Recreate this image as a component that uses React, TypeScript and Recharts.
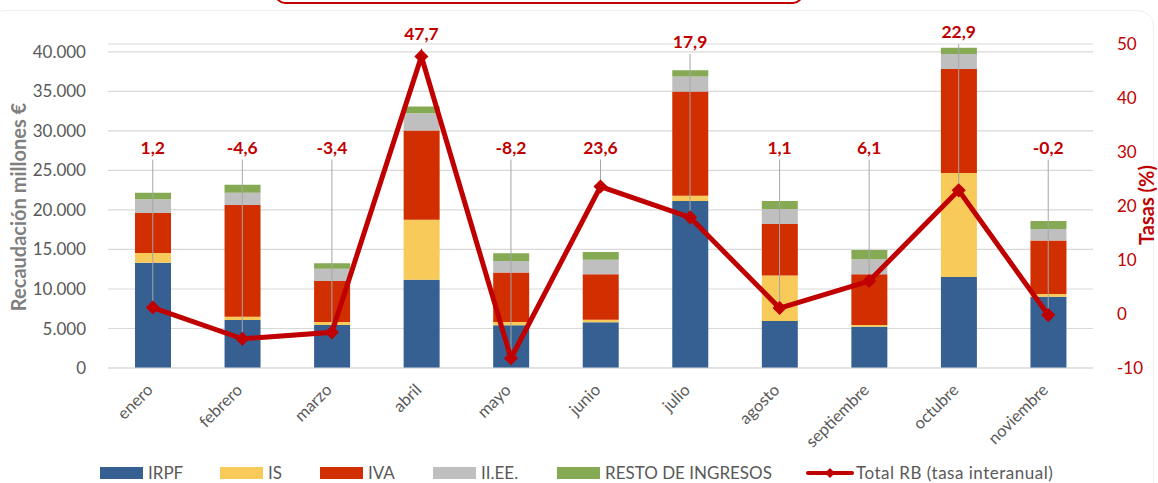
import React from 'react';
import { ComposedChart, Bar, Line, XAxis, YAxis, CartesianGrid, LabelList, ErrorBar } from 'recharts';

// Recaudación mensual (millones €) por figura tributaria
const months = ['enero', 'febrero', 'marzo', 'abril', 'mayo', 'junio', 'julio', 'agosto', 'septiembre', 'octubre', 'noviembre'];
const irpf = [13330, 6080, 5440, 11180, 5400, 5780, 21140, 5950, 5230, 11520, 9030];
const isoc = [1230, 420, 380, 7590, 420, 340, 670, 5740, 210, 13170, 340];
const iva = [5060, 14140, 5190, 11270, 6250, 5740, 13170, 6540, 6420, 13160, 6750];
const iiee = [1740, 1550, 1560, 2200, 1480, 1850, 1900, 1900, 1900, 1900, 1480];
const resto = [830, 1010, 680, 840, 970, 980, 810, 1010, 1180, 760, 1010];
// Total RB, tasa interanual (%)
const totalRB = [1.2, -4.6, -3.4, 47.7, -8.2, 23.6, 17.9, 1.1, 6.1, 22.9, -0.2];

const leftTicks = [0, 5000, 10000, 15000, 20000, 25000, 30000, 35000, 40000];
const rightTicks = [-10, 0, 10, 20, 30, 40, 50];
const LEFT_MAX = 41000;
const RIGHT_MIN = -10;
const RIGHT_MAX = 50;
const LABEL_FLOOR = 28.6;

const RED = '#c00000';
const GREY_TXT = '#595959';
const FONT = 'Lato, "Open Sans", sans-serif';

const series = [
  { key: 'irpf', name: 'IRPF', color: '#376092' },
  { key: 'is', name: 'IS', color: '#f7ca5a' },
  { key: 'iva', name: 'IVA', color: '#d22f00' },
  { key: 'iiee', name: 'II.EE.', color: '#bfbfbf' },
  { key: 'resto', name: 'RESTO DE INGRESOS', color: '#86aa54' },
];
// legend item start (px) – matches the source layout
const legendLeft = [100, 220, 320, 433, 557, 806];

const data = months.map((m, i) => {
  const total = irpf[i] + isoc[i] + iva[i] + iiee[i] + resto[i];
  const barTopRate = (total / LEFT_MAX) * (RIGHT_MAX - RIGHT_MIN) + RIGHT_MIN;
  const onMarker = totalRB[i] + 2;
  const labelAt = Math.min(RIGHT_MAX, Math.max(LABEL_FLOOR, barTopRate + 3, onMarker));
  const leader = labelAt > onMarker ? labelAt - totalRB[i] : 0;
  return {
    month: m,
    irpf: irpf[i],
    is: isoc[i],
    iva: iva[i],
    iiee: iiee[i],
    resto: resto[i],
    rate: totalRB[i],
    rateLabel: String(totalRB[i]).replace('.', ','),
    labelAt,
    leader: [0, leader],
  };
});

const fmtThousands = (v: number) => String(v).replace(/\B(?=(\d{3})+(?!\d))/g, '.');

const Diamond = (props: any) => {
  const { cx, cy, index } = props;
  if (cx == null || cy == null) return <g key={`d${index}`} />;
  const r = 6;
  return (
    <path
      key={`d${index}`}
      d={`M${cx},${cy - r}L${cx + r},${cy}L${cx},${cy + r}L${cx - r},${cy}Z`}
      fill={RED}
      stroke={RED}
      strokeWidth={1.5}
    />
  );
};

const MonthTick = (props: any) => {
  const { x, y, payload } = props;
  const tx = x + 1;
  const ty = y + 15;
  return (
    <text
      x={tx}
      y={ty}
      transform={`rotate(-45 ${tx} ${ty})`}
      textAnchor="end"
      fill={GREY_TXT}
      fontSize={16.5}
      fontFamily={FONT}
    >
      {payload.value}
    </text>
  );
};

function LegendRow() {
  return (
    <div style={{ position: 'absolute', left: 0, top: 464, width: 1158, height: 18, lineHeight: '18px', fontFamily: FONT, fontSize: 17, color: GREY_TXT, whiteSpace: 'nowrap' }}>
      {series.map((s, i) => (
        <div key={s.key} style={{ position: 'absolute', left: legendLeft[i], top: 0, height: 18, display: 'flex', alignItems: 'center', gap: 5 }}>
          <span style={{ display: 'inline-block', width: 43, height: 12, background: s.color }} />
          <span>{s.name}</span>
        </div>
      ))}
      <div style={{ position: 'absolute', left: legendLeft[5], top: 0, height: 18, display: 'flex', alignItems: 'center', gap: 2 }}>
        <svg width={48} height={14}>
          <line x1={2} y1={7} x2={46} y2={7} stroke={RED} strokeWidth={4} strokeLinecap="round" />
          <path d="M24,2L29,7L24,12L19,7Z" fill={RED} />
        </svg>
        <span style={{ letterSpacing: 0.5 }}>Total RB (tasa interanual)</span>
      </div>
    </div>
  );
}

export default function App() {
  return (
    <div style={{ position: 'absolute', left: 0, top: 0, width: 1158, height: 483, overflow: 'hidden', background: '#fff' }}>
      <div
        style={{
          position: 'absolute',
          left: -12,
          top: 10,
          width: 1164,
          height: 520,
          border: '1px solid #f0f0f0',
          borderRadius: 16,
        }}
      />
      <div
        style={{
          position: 'absolute',
          left: 275,
          top: -30,
          width: 524,
          height: 30,
          border: `2px solid ${RED}`,
          borderRadius: 10,
        }}
      />
      <ComposedChart
        width={1158}
        height={483}
        data={data}
        margin={{ top: 44, right: 0, bottom: 45, left: 0 }}
        style={{ position: 'absolute', left: 0, top: 0 }}
      >
        <CartesianGrid yAxisId="left" vertical={false} stroke="#d9d9d9" strokeWidth={1.2} />
        <XAxis
          dataKey="month"
          height={70}
          tick={<MonthTick />}
          tickLine={false}
          axisLine={{ stroke: '#d9d9d9' }}
          interval={0}
        />
        <YAxis
          yAxisId="left"
          width={108}
          domain={[0, LEFT_MAX]}
          ticks={leftTicks}
          allowDataOverflow
          tickFormatter={fmtThousands}
          tick={{ fill: GREY_TXT, fontSize: 17, fontFamily: FONT }}
          tickLine={false}
          axisLine={false}
          tickMargin={16}
          label={{
            content: () => (
              <text
                x={18}
                y={207}
                transform="rotate(-90 18 207)"
                textAnchor="middle"
                dominantBaseline="central"
                fill="#7f7f7f"
                fontWeight="bold"
                fontSize={20}
                fontFamily={FONT}
              >
                Recaudación millones €
              </text>
            ),
          }}
        />
        <YAxis
          yAxisId="right"
          orientation="right"
          width={65}
          domain={[RIGHT_MIN, RIGHT_MAX]}
          ticks={rightTicks}
          tick={{ fill: RED, fontSize: 17, fontFamily: FONT, textAnchor: 'start' }}
          tickLine={false}
          axisLine={false}
          tickMargin={18}
          label={{
            content: () => (
              <text
                x={1146}
                y={205}
                transform="rotate(-90 1146 205)"
                textAnchor="middle"
                dominantBaseline="central"
                fill={RED}
                fontWeight="bold"
                fontSize={20}
                fontFamily={FONT}
              >
                Tasas (%)
              </text>
            ),
          }}
        />
        {series.map((s) => (
          <Bar
            key={s.key}
            yAxisId="left"
            dataKey={s.key}
            name={s.name}
            stackId="a"
            fill={s.color}
            barSize={36}
            isAnimationActive={false}
          />
        ))}
        <Line
          yAxisId="right"
          dataKey="labelAt"
          stroke="none"
          dot={false}
          activeDot={false}
          legendType="none"
          isAnimationActive={false}
        >
          <LabelList
            dataKey="rateLabel"
            position="top"
            offset={6}
            fill={RED}
            fontWeight="bold"
            fontSize={17.5}
            fontFamily={FONT}
          />
        </Line>
        <Line
          yAxisId="right"
          dataKey="rate"
          name="Total RB (tasa interanual)"
          stroke={RED}
          strokeWidth={5}
          dot={Diamond}
          activeDot={false}
          isAnimationActive={false}
        >
          <ErrorBar dataKey="leader" width={0} stroke="#a6a6a6" strokeWidth={1} direction="y" />
        </Line>
      </ComposedChart>
      <LegendRow />
    </div>
  );
}
